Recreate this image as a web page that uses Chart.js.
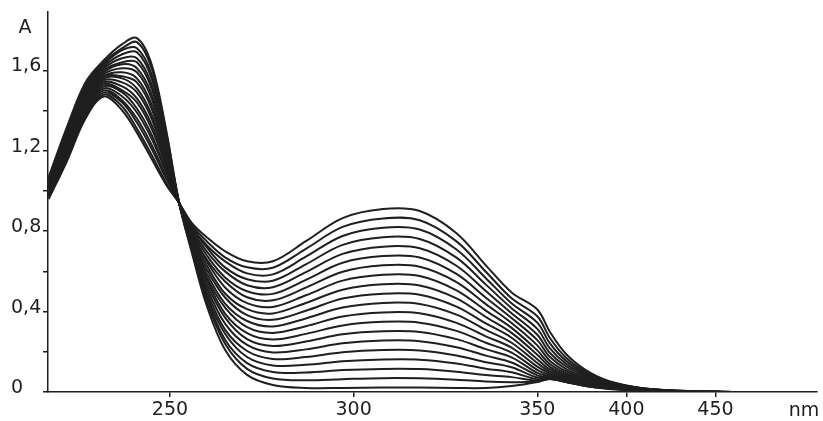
<!DOCTYPE html>
<html>
<head>
<meta charset="utf-8">
<script src="https://cdn.jsdelivr.net/npm/chart.js@4.4.1/dist/chart.umd.min.js"></script>
<style>
  html, body { margin: 0; padding: 0; background: #ffffff; }
  #spectra { display: block; }
</style>
</head>
<body>
<canvas id="spectra" width="823" height="421"></canvas>
<script>
// wavelengths (nm) shared by every recorded spectrum
const wavelengths = [217, 222, 227, 232, 237, 241, 245, 249, 252.5, 256, 260, 265, 271, 278, 287, 297, 308, 318, 328, 336, 343, 350, 357, 366, 377, 390, 410, 440, 470];

// absorbance of the 20 spectra, from the one with the tallest 240 nm band to the one with the tallest 310 nm band
const s01 = [1.07, 1.32, 1.54, 1.65, 1.73, 1.76, 1.63, 1.30, 0.94, 0.69, 0.43, 0.21, 0.085, 0.035, 0.020, 0.020, 0.022, 0.022, 0.020, 0.020, 0.030, 0.050, 0.065, 0.050, 0.030, 0.015, 0.005, 0.001, 0];
const s02 = [1.06, 1.31, 1.53, 1.64, 1.71, 1.74, 1.61, 1.29, 0.94, 0.70, 0.45, 0.24, 0.115, 0.067, 0.058, 0.064, 0.069, 0.068, 0.061, 0.052, 0.049, 0.052, 0.065, 0.050, 0.030, 0.017, 0.006, 0.001, 0];
const s03 = [1.06, 1.30, 1.52, 1.63, 1.70, 1.71, 1.58, 1.27, 0.94, 0.71, 0.47, 0.26, 0.144, 0.100, 0.097, 0.109, 0.115, 0.114, 0.101, 0.084, 0.074, 0.056, 0.066, 0.051, 0.031, 0.019, 0.006, 0.001, 0];
const s04 = [1.05, 1.29, 1.51, 1.62, 1.68, 1.69, 1.56, 1.26, 0.94, 0.71, 0.48, 0.29, 0.174, 0.132, 0.135, 0.153, 0.162, 0.161, 0.142, 0.116, 0.098, 0.063, 0.067, 0.051, 0.032, 0.021, 0.007, 0.001, 0];
const s05 = [1.05, 1.28, 1.50, 1.61, 1.66, 1.66, 1.53, 1.24, 0.94, 0.72, 0.50, 0.31, 0.204, 0.164, 0.174, 0.198, 0.209, 0.207, 0.182, 0.148, 0.123, 0.072, 0.070, 0.053, 0.034, 0.023, 0.008, 0.001, 0];
const s06 = [1.04, 1.28, 1.49, 1.60, 1.64, 1.64, 1.51, 1.23, 0.94, 0.73, 0.52, 0.34, 0.234, 0.197, 0.212, 0.242, 0.256, 0.253, 0.223, 0.181, 0.147, 0.083, 0.073, 0.055, 0.036, 0.026, 0.008, 0.001, 0];
const s07 = [1.03, 1.27, 1.48, 1.59, 1.63, 1.61, 1.48, 1.21, 0.94, 0.74, 0.54, 0.37, 0.263, 0.229, 0.251, 0.287, 0.302, 0.299, 0.263, 0.213, 0.172, 0.095, 0.078, 0.058, 0.038, 0.028, 0.009, 0.001, 0];
const s08 = [1.03, 1.26, 1.47, 1.58, 1.61, 1.59, 1.46, 1.20, 0.94, 0.75, 0.56, 0.39, 0.293, 0.261, 0.289, 0.331, 0.349, 0.345, 0.304, 0.245, 0.196, 0.110, 0.084, 0.062, 0.041, 0.030, 0.010, 0.001, 0];
const s09 = [1.02, 1.25, 1.46, 1.57, 1.59, 1.56, 1.43, 1.19, 0.94, 0.75, 0.57, 0.42, 0.323, 0.294, 0.327, 0.376, 0.396, 0.392, 0.344, 0.277, 0.221, 0.126, 0.092, 0.066, 0.044, 0.032, 0.010, 0.001, 0];
const s10 = [1.02, 1.24, 1.46, 1.57, 1.57, 1.54, 1.41, 1.17, 0.94, 0.76, 0.59, 0.44, 0.353, 0.326, 0.366, 0.420, 0.443, 0.438, 0.385, 0.309, 0.245, 0.144, 0.101, 0.072, 0.048, 0.034, 0.011, 0.001, 0];
const s11 = [1.01, 1.23, 1.45, 1.56, 1.56, 1.51, 1.38, 1.16, 0.94, 0.77, 0.61, 0.47, 0.382, 0.359, 0.404, 0.465, 0.489, 0.484, 0.425, 0.341, 0.270, 0.163, 0.112, 0.078, 0.052, 0.036, 0.012, 0.002, 0];
const s12 = [1.01, 1.22, 1.44, 1.55, 1.54, 1.49, 1.36, 1.14, 0.94, 0.78, 0.63, 0.49, 0.412, 0.391, 0.443, 0.509, 0.536, 0.530, 0.466, 0.373, 0.294, 0.185, 0.125, 0.086, 0.057, 0.038, 0.013, 0.002, 0];
const s13 = [1.00, 1.21, 1.43, 1.54, 1.52, 1.46, 1.33, 1.13, 0.94, 0.79, 0.65, 0.52, 0.442, 0.423, 0.481, 0.554, 0.583, 0.577, 0.506, 0.405, 0.319, 0.207, 0.139, 0.094, 0.062, 0.040, 0.013, 0.002, 0];
const s14 = [0.99, 1.20, 1.42, 1.53, 1.50, 1.44, 1.31, 1.12, 0.94, 0.79, 0.66, 0.55, 0.471, 0.456, 0.519, 0.598, 0.630, 0.623, 0.547, 0.437, 0.343, 0.232, 0.156, 0.104, 0.067, 0.042, 0.014, 0.002, 0];
const s15 = [0.99, 1.20, 1.41, 1.52, 1.49, 1.41, 1.28, 1.10, 0.94, 0.80, 0.68, 0.57, 0.501, 0.488, 0.558, 0.643, 0.676, 0.669, 0.587, 0.469, 0.368, 0.258, 0.175, 0.115, 0.073, 0.044, 0.015, 0.002, 0];
const s16 = [0.98, 1.19, 1.40, 1.51, 1.47, 1.39, 1.26, 1.09, 0.94, 0.81, 0.70, 0.60, 0.531, 0.521, 0.596, 0.687, 0.723, 0.715, 0.628, 0.502, 0.392, 0.285, 0.195, 0.128, 0.080, 0.047, 0.015, 0.002, 0];
const s17 = [0.98, 1.18, 1.39, 1.50, 1.45, 1.36, 1.23, 1.07, 0.94, 0.82, 0.72, 0.62, 0.561, 0.553, 0.635, 0.732, 0.770, 0.761, 0.668, 0.534, 0.417, 0.314, 0.218, 0.141, 0.087, 0.049, 0.016, 0.002, 0];
const s18 = [0.97, 1.17, 1.38, 1.49, 1.44, 1.34, 1.21, 1.06, 0.94, 0.82, 0.73, 0.65, 0.590, 0.585, 0.673, 0.776, 0.817, 0.808, 0.709, 0.566, 0.441, 0.345, 0.243, 0.156, 0.094, 0.051, 0.017, 0.003, 0];
const s19 = [0.97, 1.16, 1.37, 1.48, 1.42, 1.31, 1.18, 1.04, 0.94, 0.83, 0.75, 0.67, 0.620, 0.618, 0.712, 0.821, 0.863, 0.854, 0.749, 0.598, 0.466, 0.377, 0.270, 0.172, 0.102, 0.053, 0.017, 0.003, 0];
const s20 = [0.96, 1.15, 1.36, 1.47, 1.40, 1.29, 1.16, 1.03, 0.94, 0.84, 0.77, 0.70, 0.650, 0.650, 0.750, 0.865, 0.910, 0.900, 0.790, 0.630, 0.495, 0.410, 0.300, 0.190, 0.110, 0.055, 0.018, 0.003, 0];

const spectra = [s01, s02, s03, s04, s05, s06, s07, s08, s09, s10, s11, s12, s13, s14, s15, s16, s17, s18, s19, s20];

// axis ticks
const xTickNm = [250, 300, 350, 400, 450];
const yTickValues = [0, 0.2, 0.4, 0.6, 0.8, 1.0, 1.2, 1.4, 1.6];
const yTickLabels = ['0', '', '0,4', '', '0,8', '', '1,2', '', '1,6'];

// the recorder switches to a compressed wavelength scale above 350 nm
function toChartX(nm) {
    return nm <= 350 ? nm : 350 + (nm - 350) * 0.485;
}

const ink = '#1f1f1f';
const font = { family: 'DejaVu Sans', size: 19 };

const datasets = spectra.map((values, i) => ({
    label: 'spectrum ' + (i + 1),
    data: wavelengths.map((nm, k) => ({ x: toChartX(nm), y: values[k] })),
    borderColor: ink,
    borderWidth: 2,
    pointRadius: 0,
    fill: false,
    tension: 0.35
}));

const axisTitles = {
    id: 'axisTitles',
    afterDraw(chart) {
        const ctx = chart.ctx;
        ctx.save();
        ctx.fillStyle = ink;
        ctx.font = '19px "DejaVu Sans"';
        ctx.textAlign = 'center';
        ctx.textBaseline = 'middle';
        ctx.fillText('A', 25, 28);
        ctx.fillText('nm', 804, 411);
        ctx.restore();
    }
};

const spectraChart = new Chart(document.getElementById('spectra').getContext('2d'), {
    type: 'line',
    data: { datasets: datasets },
    plugins: [axisTitles],
    options: {
        responsive: false,
        animation: false,
        layout: { padding: { top: 12, right: 6, left: 11, bottom: 0 } },
        plugins: {
            legend: { display: false },
            tooltip: { enabled: false }
        },
        scales: {
            x: {
                type: 'linear',
                min: toChartX(216.8),
                max: toChartX(507),
                afterBuildTicks: axis => {
                    axis.ticks = xTickNm.map(nm => ({ value: toChartX(nm) }));
                },
                afterFit: axis => { axis.height = 29; },
                border: { display: true, color: ink, width: 1.5 },
                grid: { drawOnChartArea: false, drawTicks: true, tickLength: 5, color: ink, lineWidth: 1.5 },
                ticks: {
                    color: ink,
                    font: font,
                    padding: 2,
                    maxRotation: 0,
                    autoSkip: false,
                    callback: (value, index) => xTickNm[index]
                }
            },
            y: {
                min: 0,
                max: 1.89,
                afterBuildTicks: axis => {
                    axis.ticks = yTickValues.map(v => ({ value: v }));
                },
                afterFit: axis => { axis.width = 37; },
                border: { display: true, color: ink, width: 1.5 },
                grid: { drawOnChartArea: false, drawTicks: true, tickLength: 5, color: ink, lineWidth: 1.5 },
                ticks: {
                    color: ink,
                    font: font,
                    padding: 0,
                    labelOffset: -4,
                    crossAlign: 'far',
                    autoSkip: false,
                    callback: (value, index) => yTickLabels[index]
                }
            }
        }
    }
});
</script>
</body>
</html>
